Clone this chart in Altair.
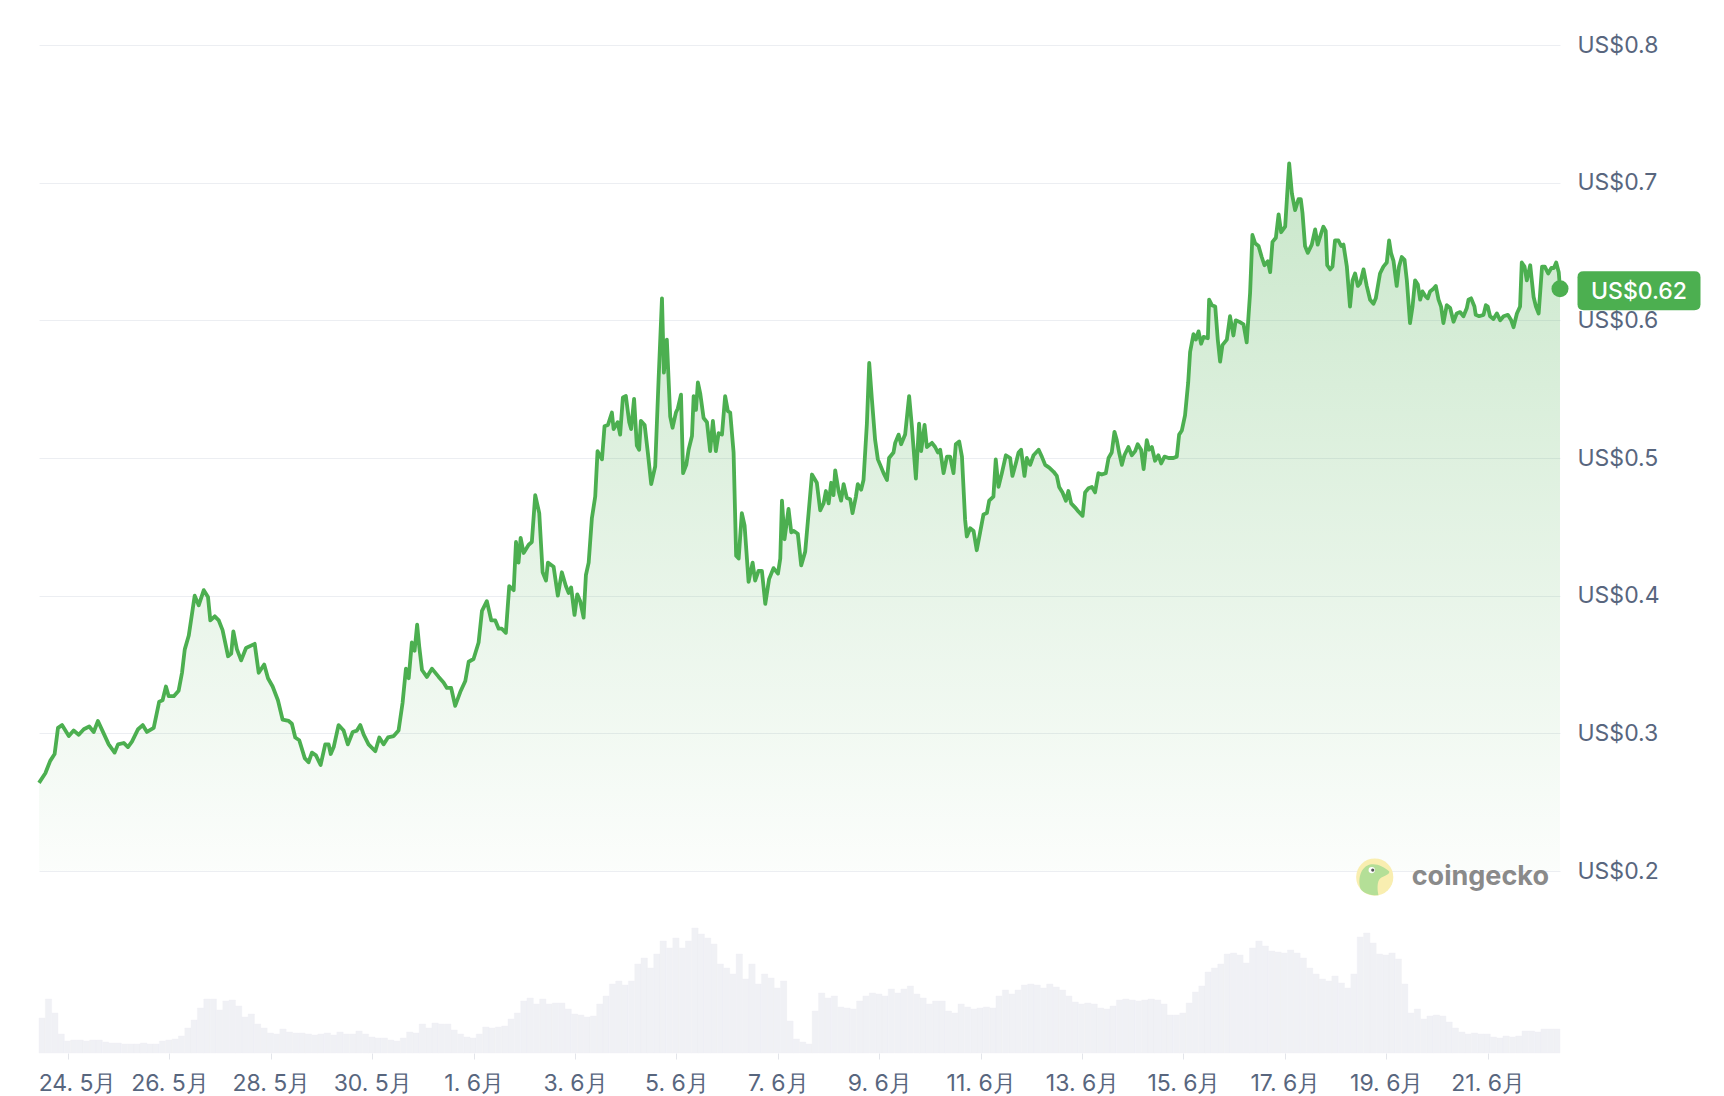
import pandas as pd
import altair as alt

# 30 Tage, stündliche Kurve, Start 23.05. 10:15 UTC
start = pd.Timestamp("2024-05-23 10:15", tz="UTC")
end = start + pd.Timedelta(hours=720)

price_hours = [
    0, 3.0, 5.3, 7.4, 9.0, 10.9, 14.1, 16.4, 18.8, 21.2,
    23.8, 25.9, 27.9, 30.6, 33.0, 35.8, 37.4, 40.1, 42.1, 44.0,
    46.9, 49.1, 51.1, 54.3, 56.9, 58.5, 60.1, 61.4, 63.8, 66.1,
    67.7, 69.0, 70.9, 73.7, 75.6, 78.0, 80.0, 81.1, 83.2, 85.1,
    86.9, 89.5, 91.0, 92.0, 93.7, 95.7, 98.0, 102.1, 104.0, 106.6,
    108.4, 110.6, 113.1, 115.3, 118.2, 119.7, 121.3, 123.2, 125.8, 127.6,
    129.2, 131.1, 133.3, 135.5, 137.1, 138.1, 139.5, 141.8, 144.2, 146.2,
    148.5, 150.5, 152.1, 153.7, 156.0, 159.2, 161.1, 163.1, 165.2, 167.9,
    170.2, 172.1, 173.7, 175.0, 176.5, 177.8, 179.0, 180.0, 181.3, 183.6,
    186.0, 189.2, 191.5, 193.1, 195.1, 197.0, 199.4, 201.8, 203.4, 205.7,
    208.1, 209.7, 212.0, 214.1, 216.0, 217.6, 219.1, 221.0, 222.6, 224.7,
    225.8, 227.0, 228.0, 229.4, 231.8, 233.3, 234.9, 236.8, 238.4, 240.0,
    240.9, 243.6, 245.6, 247.5, 249.4, 250.7, 251.9, 253.5, 254.8, 256.2,
    257.8, 258.9, 260.2, 261.7, 263.3, 264.4, 266.5, 267.7, 269.3, 271.2,
    272.0, 273.9, 275.1, 276.4, 277.8, 279.4, 280.3, 281.7, 283.0, 284.1,
    284.9, 286.7, 288.2, 289.8, 291.7, 293.3, 294.9, 295.8, 297.2, 298.8,
    299.9, 301.5, 302.4, 303.9, 304.9, 306.4, 307.5, 309.1, 309.9, 311.0,
    311.9, 313.0, 314.6, 316.2, 317.7, 319.0, 320.4, 321.7, 323.3, 324.8,
    326.1, 327.2, 328.8, 330.0, 331.2, 332.7, 334.0, 335.9, 337.8, 339.0,
    340.6, 342.2, 343.8, 345.6, 347.7, 349.8, 350.9, 351.7, 352.9, 354.8,
    356.1, 357.2, 359.2, 360.8, 362.7, 364.3, 365.9, 368.2, 369.8, 371.4,
    372.5, 373.8, 375.0, 376.1, 376.9, 378.5, 379.7, 380.9, 382.4, 384.0,
    385.1, 386.7, 387.6, 389.2, 390.3, 391.9, 393.0, 394.3, 395.8, 397.1,
    398.2, 399.8, 401.4, 402.4, 404.5, 405.3, 406.9, 408.1, 410.0, 411.9,
    413.2, 415.1, 416.6, 417.6, 419.2, 420.3, 422.7, 424.2, 425.5, 426.6,
    428.2, 429.8, 431.3, 432.9, 434.0, 435.6, 436.9, 438.4, 439.2, 440.8,
    442.4, 443.9, 445.5, 447.1, 448.7, 449.8, 451.8, 452.9, 454.2, 455.8,
    457.7, 459.7, 460.8, 462.4, 463.7, 464.9, 466.5, 467.6, 469.2, 470.8,
    473.2, 474.7, 476.3, 478.2, 480.3, 481.8, 482.9, 484.5, 486.1, 487.3,
    488.6, 490.5, 492.1, 494.0, 495.2, 496.8, 498.4, 499.9, 501.5, 503.1,
    505.0, 506.3, 507.8, 509.1, 510.2, 511.3, 512.6, 513.8, 515.7, 517.3,
    518.9, 520.1, 521.7, 522.9, 524.4, 525.5, 526.8, 528.3, 529.9, 531.2,
    532.8, 534.7, 537.0, 538.6, 539.7, 541.0, 542.5, 544.0, 544.9, 546.5,
    547.6, 548.9, 550.1, 551.3, 553.3, 553.9, 555.2, 556.8, 558.0, 559.1,
    560.2, 562.3, 563.8, 565.4, 566.5, 568.1, 570.2, 571.7, 573.3, 574.4,
    575.7, 577.3, 578.8, 580.1, 581.7, 582.8, 583.9, 585.5, 586.8, 588.0,
    589.9, 590.8, 591.8, 593.1, 594.6, 596.2, 597.3, 598.1, 599.3, 600.6,
    602.5, 604.1, 605.3, 606.9, 608.0, 609.1, 609.8, 611.2, 612.3, 613.5,
    615.1, 616.4, 617.5, 619.1, 620.6, 621.8, 623.0, 624.3, 625.4, 627.0,
    628.5, 630.1, 631.7, 632.8, 634.8, 636.4, 638.0, 639.1, 640.0, 641.2,
    642.7, 643.8, 645.1, 646.4, 647.5, 649.0, 650.2, 651.4, 652.7, 653.8,
    654.9, 656.1, 657.4, 658.5, 660.1, 661.2, 662.5, 663.7, 664.8, 666.4,
    668.0, 669.6, 671.1, 672.7, 674.3, 675.9, 676.7, 677.9, 679.5, 680.1,
    681.7, 683.8, 684.9, 685.8, 686.9, 688.5, 690.1, 691.7, 693.3, 695.3,
    696.9, 698.0, 699.6, 701.1, 701.9, 703.2, 704.3, 705.9, 707.5, 708.6,
    709.9, 711.5, 712.8, 714.4, 715.9, 717.1, 718.2, 719.4, 720.0,
]

price_values = [
    .264, .271, .280, .285, .304, .306, .298, .302, .299, .303,
    .305, .301, .309, .300, .292, .286, .292, .293, .290, .294,
    .303, .306, .301, .304, .323, .324, .334, .327, .327, .331,
    .344, .361, .371, .400, .393, .404, .399, .382, .385, .382,
    .375, .356, .358, .374, .361, .353, .362, .365, .344, .350,
    .340, .334, .324, .310, .309, .307, .297, .295, .282, .279,
    .286, .284, .277, .292, .292, .285, .290, .306, .302, .292,
    .301, .302, .306, .299, .292, .287, .297, .292, .297, .298,
    .302, .322, .347, .340, .366, .360, .379, .363, .346, .341,
    .347, .341, .337, .333, .333, .320, .330, .338, .352, .354,
    .366, .389, .396, .382, .382, .376, .376, .373, .407, .404,
    .439, .424, .442, .431, .437, .439, .473, .460, .417, .411,
    .424, .421, .400, .417, .407, .402, .406, .386, .401, .396,
    .384, .415, .424, .456, .472, .505, .499, .523, .524, .533,
    .521, .526, .517, .544, .545, .526, .521, .543, .509, .506,
    .527, .524, .504, .481, .494, .557, .616, .562, .586, .530,
    .522, .533, .536, .546, .489, .495, .506, .516, .545, .535,
    .555, .547, .529, .526, .505, .527, .505, .518, .517, .545,
    .534, .533, .504, .429, .427, .460, .451, .410, .424, .411,
    .418, .418, .394, .412, .420, .416, .427, .469, .441, .463,
    .446, .447, .445, .422, .432, .460, .488, .482, .462, .467,
    .476, .467, .482, .473, .491, .476, .469, .481, .471, .470,
    .460, .472, .481, .477, .484, .525, .569, .542, .513, .499,
    .495, .489, .484, .500, .504, .511, .517, .510, .517, .545,
    .523, .485, .525, .505, .524, .508, .511, .508, .504, .506,
    .489, .501, .501, .489, .510, .512, .501, .455, .443, .449,
    .447, .433, .446, .459, .460, .469, .472, .499, .479, .489,
    .502, .500, .487, .496, .504, .506, .487, .500, .495, .502,
    .506, .501, .495, .493, .490, .487, .479, .475, .469, .476,
    .467, .464, .461, .458, .475, .478, .479, .475, .489, .488,
    .489, .500, .504, .519, .513, .504, .495, .502, .508, .502,
    .505, .510, .506, .492, .513, .506, .508, .498, .502, .496,
    .501, .500, .500, .501, .517, .520, .531, .555, .577, .590,
    .586, .592, .583, .588, .587, .615, .611, .610, .586, .570,
    .582, .586, .603, .589, .600, .599, .597, .584, .620, .662,
    .656, .654, .646, .640, .643, .635, .657, .660, .677, .664,
    .668, .690, .714, .692, .680, .688, .688, .678, .654, .649,
    .655, .666, .655, .663, .668, .665, .640, .637, .639, .658,
    .658, .654, .655, .639, .610, .629, .634, .625, .627, .637,
    .625, .615, .612, .616, .634, .639, .642, .658, .649, .643,
    .625, .639, .646, .644, .629, .598, .610, .629, .626, .615,
    .621, .618, .616, .621, .623, .625, .615, .610, .598, .611,
    .609, .599, .605, .606, .603, .609, .615, .616, .610, .604,
    .603, .604, .611, .610, .603, .601, .605, .600, .603, .604,
    .600, .595, .605, .610, .642, .639, .629, .640, .617, .610,
    .605, .639, .639, .634, .638, .638, .642, .635, .623,
]

# Volumen je 3 Stunden (relative Höhe)
volume_3h = [
    35, 54, 40, 19, 12, 13, 13, 12, 13, 13, 11, 10, 10, 9, 9, 9, 10, 9, 9, 12,
    13, 14, 17, 25, 33, 45, 54, 54, 43, 52, 53, 47, 36, 39, 29, 25, 20, 19, 24, 21,
    20, 20, 19, 18, 19, 20, 18, 21, 19, 19, 22, 19, 16, 15, 15, 13, 12, 15, 21, 20,
    29, 25, 30, 29, 29, 23, 19, 16, 15, 19, 26, 25, 26, 27, 34, 40, 52, 55, 49, 54,
    49, 50, 50, 44, 39, 38, 36, 37, 49, 57, 69, 72, 68, 72, 89, 95, 85, 99, 112, 105,
    115, 105, 112, 125, 119, 115, 109, 89, 85, 79, 99, 74, 89, 69, 79, 75, 65, 72, 32, 14,
    11, 9, 42, 60, 55, 57, 46, 45, 44, 52, 57, 60, 59, 57, 64, 60, 64, 67, 59, 55,
    49, 52, 52, 42, 40, 49, 46, 44, 45, 46, 45, 57, 63, 59, 63, 68, 69, 68, 65, 69,
    66, 63, 57, 51, 49, 50, 49, 45, 44, 47, 53, 54, 53, 52, 53, 54, 53, 49, 38, 38,
    40, 50, 61, 67, 81, 85, 89, 99, 100, 98, 90, 105, 112, 107, 102, 101, 100, 103, 100, 95,
    85, 79, 74, 72, 77, 70, 65, 79, 116, 120, 110, 99, 98, 100, 94, 69, 40, 44, 34, 37,
    38, 37, 31, 25, 21, 19, 20, 19, 19, 16, 15, 17, 16, 17, 22, 22, 21, 24, 24, 24,
]

tick_days = [
    "2024-05-24", "2024-05-26", "2024-05-28", "2024-05-30", "2024-06-01",
    "2024-06-03", "2024-06-05", "2024-06-07", "2024-06-09", "2024-06-11",
    "2024-06-13", "2024-06-15", "2024-06-17", "2024-06-19", "2024-06-21",
]
y_ticks = [0.2, 0.3, 0.4, 0.5, 0.6, 0.7, 0.8]

assert len(price_hours) == len(price_values)


def iso(ts):
    return ts.strftime("%Y-%m-%dT%H:%M:%SZ")


def ms(ts):
    return int(ts.timestamp() * 1000)


price = pd.DataFrame({
    "t": [iso(start + pd.Timedelta(hours=h)) for h in price_hours],
    "price": price_values,
})

volume = pd.DataFrame({
    "t": [iso(start + pd.Timedelta(hours=3 * i)) for i in range(len(volume_3h))],
    "t2": [iso(start + pd.Timedelta(hours=3 * (i + 1))) for i in range(len(volume_3h))],
    "vol": volume_3h,
})

last = price.tail(1).copy()
last["label"] = "US$" + last["price"].map(lambda v: f"{v:.2f}")

logo = pd.DataFrame({"t": [iso(start + pd.Timedelta(hours=632.3))], "price": [0.1956]})

GREEN = "#4caf50"
GRAY = "#58667e"
FONT = "Inter"

x_scale = alt.Scale(type="utc", domain=[ms(start), ms(end)], nice=False)
tick_ms = [ms(pd.Timestamp(d, tz="UTC")) for d in tick_days]

x_axis = alt.Axis(
    values=tick_ms,
    labelExpr="utcdate(datum.value) + '. ' + (utcmonth(datum.value) + 1) + '月'",
    # erstes Label rückt an den linken Rand des Plots
    labelOffset={"condition": {"test": f"time(datum.value) <= {tick_ms[0]}", "value": 9}, "value": 0},
    grid=False, domain=False, ticks=True, tickSize=6, tickColor="#e3e5ea",
    labelFont=FONT, labelFontSize=23, labelColor=GRAY, labelPadding=13,
    labelOverlap=False, title=None,
)
x_enc = alt.X("t:T", scale=x_scale, axis=x_axis)

y_scale = alt.Scale(domain=[0.0678, 0.8], nice=False, zero=False)
y_axis = alt.Axis(
    orient="right", values=y_ticks,
    labelExpr="'US$' + format(datum.value, '.1f')",
    grid=True, gridColor="#eceef2", gridWidth=1, ticks=False, domain=False,
    labelFont=FONT, labelFontSize=23, labelColor=GRAY, labelPadding=17,
    title=None,
)
y_enc = alt.Y("price:Q", scale=y_scale, axis=y_axis)

vol_layer = alt.Chart(volume).mark_rect(color="#f0f1f5", stroke="#f0f1f5", strokeWidth=0.4).encode(
    x=x_enc,
    x2="t2:T",
    y=alt.Y("vol:Q", scale=alt.Scale(domain=[0, 1008]), axis=None),
    y2=alt.datum(0),
)

fill = alt.Gradient(
    gradient="linear",
    stops=[
        alt.GradientStop(color="rgba(76,175,80,0.30)", offset=0),
        alt.GradientStop(color="rgba(76,175,80,0.13)", offset=0.6),
        alt.GradientStop(color="rgba(76,175,80,0.02)", offset=1),
    ],
    x1=0, x2=0, y1=0, y2=1,
)

area = alt.Chart(price).mark_area(color=fill).encode(
    x=x_enc,
    y=y_enc,
    y2=alt.datum(0.2),
)

line = alt.Chart(price).mark_line(color=GREEN, strokeWidth=3.8, strokeJoin="round").encode(
    x=x_enc,
    y=y_enc,
)

dot = alt.Chart(last).mark_point(filled=True, shape="circle", size=290, color=GREEN, opacity=1).encode(
    x=x_enc,
    y=y_enc,
)

badge_shape = ("M-0.9,-0.317 L0.9,-0.317 Q1,-0.317 1,-0.22 L1,0.22 Q1,0.317 0.9,0.317 "
               "L-0.9,0.317 Q-1,0.317 -1,0.22 L-1,-0.22 Q-1,-0.317 -0.9,-0.317 Z")
badge = alt.Chart(last).mark_point(
    filled=True, shape=badge_shape, size=15129, color=GREEN, opacity=1,
    xOffset=79, yOffset=2,
).encode(
    x=x_enc,
    y=y_enc,
)

badge_text = alt.Chart(last).mark_text(
    font=FONT, fontSize=23, fontWeight=500, color="white",
    align="center", baseline="middle", dx=79, dy=3,
).encode(
    x=x_enc,
    y=y_enc,
    text="label:N",
)

# CoinGecko-Wasserzeichen
gecko_head = ("M-0.75,0.66 C-0.92,0.2 -0.8,-0.5 -0.3,-0.66 C0.1,-0.76 0.5,-0.55 0.78,-0.3 "
              "C0.82,-0.18 0.6,-0.08 0.36,0.02 C0.16,0.12 0.1,0.5 0.2,0.98 "
              "C-0.2,1.0 -0.55,0.9 -0.75,0.66 Z")
logo_base = alt.Chart(logo).encode(x=x_enc, y=y_enc)
logo_ring = logo_base.mark_point(filled=True, shape="circle", size=1385, color="#f9eeb0", opacity=1)
logo_head = logo_base.mark_point(filled=True, shape=gecko_head, size=1385, color="#b4df97", opacity=1)
logo_eye = logo_base.mark_point(filled=True, shape="circle", size=40, color="white", opacity=1,
                                xOffset=-3, yOffset=-7)
logo_pupil = logo_base.mark_point(filled=True, shape="circle", size=10, color="#555555", opacity=1,
                                  xOffset=-2, yOffset=-7)
logo_text = logo_base.mark_text(
    text="coingecko", font=FONT, fontSize=27, fontWeight="bold", color="#8a8a8a",
    align="left", baseline="middle", dx=37, dy=0,
)

price_layers = alt.layer(
    area, line, dot, badge, badge_text,
    logo_ring, logo_head, logo_eye, logo_pupil, logo_text,
)

chart = alt.layer(vol_layer, price_layers).resolve_scale(y="independent").properties(
    width=1521,
    height=1008,
    padding={"left": 29, "top": 26, "right": 5, "bottom": 0},
    background="white",
).configure_view(stroke=None)

chart.save("out.html", embed_options={"renderer": "svg", "actions": False})
